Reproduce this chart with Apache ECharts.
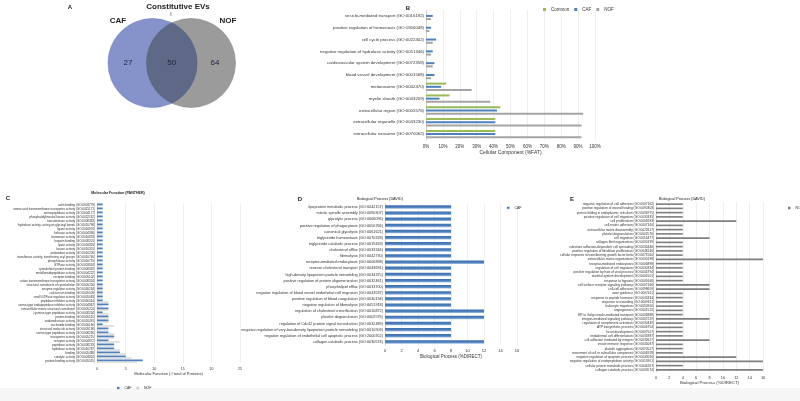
<!DOCTYPE html>
<html><head><meta charset="utf-8">
<script src="https://cdn.jsdelivr.net/npm/echarts@6/dist/echarts.min.js"></script>
<style>html,body{margin:0;padding:0;background:#fff}#c{width:800px;height:401px}</style>
</head><body><div id="c"></div>
<script>
// ---------- Panel A: Venn ----------
const vennSets = ['CAF', 'NOF'];
const vennCounts = [27, 50, 64]; // CAF only, shared, NOF only

// ---------- Panel B: Cellular Component (%FAT) ----------
const bCats = ['vesicle-mediated transport (GO:0016192)','positive regulation of hemostasis (GO:1900048)','cell cycle process (GO:0022402)','negative regulation of hydrolase activity (GO:0051346)','cardiovascular system development (GO:0072358)','blood vessel development (GO:0001568)','melanosome (GO:0042470)','myelin sheath (GO:0043209)','extracellular region (GO:0005576)','extracellular organelle (GO:0043230)','extracellular exosome (GO:0070062)'];
const bCommon = [0, 0, 0, 0, 0, 0, 12, 14, 44, 41, 41];
const bCAF    = [4, 3, 6, 4, 5, 5, 9, 8, 42, 41, 41];
const bNOF    = [3, 2, 4, 3, 4, 3, 27, 38, 93, 92, 92];
const bTicks  = [0, 10, 20, 30, 40, 50, 60, 70, 80, 90, 100];

// ---------- Panel C: Molecular Function (PANTHER) ----------
const cCats = ['actin binding (GO:0003779)','amino acid transmembrane transporter activity (GO:0015171)','aminopeptidase activity (GO:0004177)','phosphatidylinositol kinase activity (GO:0052742)','transaminase activity (GO:0008483)','hydrolase activity, acting on glycosyl bonds (GO:0016798)','ligase activity (GO:0016874)','helicase activity (GO:0004386)','isomerase activity (GO:0016853)','heparin binding (GO:0008201)','lyase activity (GO:0016829)','kinase activity (GO:0016301)','antioxidant activity (GO:0016209)','transferase activity, transferring acyl groups (GO:0016746)','phosphatase activity (GO:0016791)','GTPase activity (GO:0003924)','cytoskeletal protein binding (GO:0008092)','metalloendopeptidase activity (GO:0004222)','receptor binding (GO:0005102)','cation transmembrane transporter activity (GO:0008324)','structural constituent of cytoskeleton (GO:0005200)','enzyme regulator activity (GO:0030234)','calcium ion binding (GO:0005509)','small GTPase regulator activity (GO:0005083)','peptidase inhibitor activity (GO:0030414)','serine-type endopeptidase inhibitor activity (GO:0004867)','extracellular matrix structural constituent (GO:0005201)','cysteine-type peptidase activity (GO:0008234)','protein binding (GO:0005515)','oxidoreductase activity (GO:0016491)','nucleotide binding (GO:0000166)','structural molecule activity (GO:0005198)','serine-type peptidase activity (GO:0008236)','transporter activity (GO:0005215)','receptor activity (GO:0004872)','peptidase activity (GO:0008233)','hydrolase activity (GO:0016787)','binding (GO:0005488)','catalytic activity (GO:0003824)','protein binding activity (GO:0005515)'];
const cCAF = [1,1,1,1,1,1,1,1,1,1,1,1,1,1,1,1,1,1,1,1,1,1,1,1,1,2,2,1,2,2,1,2,2,3,2,3,3,4,5,8];
const cNOF = [0,0,0,0,0,1,0,1,0,0,0,0,0,0,0,1,0,0,0,0,1,1,1,1,2,1,2,2,2,2,3,2,3,3,4,3,4,5,6,7];
const cTicks = [0, 5, 10, 15, 20, 25];

// ---------- Panel D: Biological Process (DAVID), CAF ----------
const dCats = ['lipoprotein metabolic process (GO:0042157)','mitotic spindle assembly (GO:0090307)','glycolytic process (GO:0006096)','positive regulation of phagocytosis (GO:0050766)','canonical glycolysis (GO:0061621)','triglyceride homeostasis (GO:0070328)','triglyceride catabolic process (GO:0019433)','cholesterol efflux (GO:0033344)','fibrinolysis (GO:0042730)','receptor-mediated endocytosis (GO:0006898)','reverse cholesterol transport (GO:0043691)','high-density lipoprotein particle remodeling (GO:0034375)','positive regulation of protein oligomerization (GO:0032461)','phospholipid efflux (GO:0033700)','negative regulation of blood vessel endothelial cell migration (GO:0043537)','positive regulation of blood coagulation (GO:0030194)','negative regulation of fibrinolysis (GO:0051918)','regulation of cholesterol esterification (GO:0010872)','platelet degranulation (GO:0002576)','regulation of Cdc42 protein signal transduction (GO:0032489)','negative regulation of very-low-density lipoprotein particle remodeling (GO:0010903)','negative regulation of endothelial cell apoptotic process (GO:2000352)','collagen catabolic process (GO:0030574)'];
const dCAF = [8,8,8,8,8,8,8,8,8,12,8,8,8,8,8,8,8,12,12,8,8,8,12];
const dTicks = [0, 2, 4, 6, 8, 10, 12, 14, 16];

// ---------- Panel E: Biological Process (DAVID), NOF ----------
const eCats = ['negative regulation of cell adhesion (GO:0007162)','positive regulation of wound healing (GO:0090303)','protein folding in endoplasmic reticulum (GO:0034975)','positive regulation of cell migration (GO:0030335)','cell proliferation (GO:0008283)','cell-matrix adhesion (GO:0007160)','extracellular matrix disassembly (GO:0022617)','platelet degranulation (GO:0002576)','cell migration (GO:0016477)','collagen fibril organization (GO:0030199)','substrate adhesion-dependent cell spreading (GO:0034446)','positive regulation of fibroblast proliferation (GO:0048146)','cellular response to transforming growth factor beta (GO:0071560)','extracellular matrix organization (GO:0030198)','receptor-mediated endocytosis (GO:0006898)','regulation of cell migration (GO:0030334)','positive regulation by host of viral process (GO:0044794)','skeletal system development (GO:0001501)','response to hypoxia (GO:0001666)','cell surface receptor signaling pathway (GO:0007166)','cell-cell adhesion (GO:0098609)','axon guidance (GO:0007411)','response to peptide hormone (GO:0043434)','response to wounding (GO:0009611)','leukocyte migration (GO:0050900)','angiogenesis (GO:0001525)','ER to Golgi vesicle-mediated transport (GO:0006888)','integrin-mediated signaling pathway (GO:0007229)','regulation of complement activation (GO:0030449)','ATP biosynthetic process (GO:0006754)','heart development (GO:0007507)','endodermal cell differentiation (GO:0035987)','cell adhesion mediated by integrin (GO:0033627)','innate immune response (GO:0045087)','platelet aggregation (GO:0070527)','movement of cell or subcellular component (GO:0006928)','negative regulation of apoptotic process (GO:0043066)','negative regulation of endopeptidase activity (GO:0010951)','cellular protein metabolic process (GO:0044267)','collagen catabolic process (GO:0030574)'];
const eNOF = [4,4,4,4,12,4,4,4,8,4,4,4,4,16,4,4,4,4,4,8,8,4,4,4,4,4,4,8,4,4,4,4,8,4,4,4,12,16,4,16];
const eTicks = [0, 2, 4, 6, 8, 10, 12, 14, 16];

// colours
const GREEN = '#9bbb59', BLUE = '#4f81bd', GRAY = '#a5a5a5', DGRAY = '#7f7f7f';
const TXT = '#333';
const FONT = 'Liberation Sans, Arial, sans-serif';

const chart = echarts.init(document.getElementById('c'), null, {renderer: 'canvas'});

function catAxis(gi, cats, fs) {
  return {type: 'category', gridIndex: gi, data: cats, inverse: true,
    axisTick: {show: false}, axisLine: {show: true, lineStyle: {color: '#bfbfbf', width: 0.6}},
    axisLabel: {interval: 0, fontSize: fs, color: TXT, margin: 2, fontFamily: FONT}};
}
function valAxis(gi, ticks, fs, name, nameGap, fmt) {
  return {type: 'value', gridIndex: gi, min: ticks[0], max: ticks[ticks.length - 1],
    interval: ticks[1] - ticks[0],
    axisLine: {show: false}, axisTick: {show: false},
    splitLine: {show: true, lineStyle: {color: '#e4e4e4', width: 0.6}},
    axisLabel: {fontSize: fs, color: TXT, margin: 4, fontFamily: FONT, formatter: fmt || '{value}'},
    name: name, nameLocation: 'middle', nameGap: nameGap,
    nameTextStyle: {fontSize: fs + 0.5, color: TXT, fontFamily: FONT}};
}

// Venn geometry: lens polygon from arc samples
const cx1 = 152.5, cx2 = 191, cy = 63, r = 44.5;
const ah = (cx2 - cx1) / 2, hh = Math.sqrt(r * r - ah * ah), mx = cx1 + ah;
const phi = Math.atan2(hh, ah);
const lensPts = [];
for (let i = 0; i <= 40; i++) { const t = -phi + 2 * phi * i / 40; lensPts.push([cx1 + r * Math.cos(t), cy + r * Math.sin(t)]); }
for (let i = 0; i <= 40; i++) { const t = Math.PI - phi + 2 * phi * i / 40; lensPts.push([cx2 + r * Math.cos(t), cy + r * Math.sin(t)]); }

function txt(x, y, s, font, fill) {
  return {type: 'text', x: x, y: y, z: 20, style: {text: s, fill: fill || '#222', align: 'center', verticalAlign: 'middle', font: font}};
}

const graphic = [
  {type: 'rect', z: 0, shape: {x: 0, y: 388, width: 800, height: 13}, style: {fill: '#f6f6f6'}},
  {type: 'circle', z: 5, shape: {cx: cx2, cy: cy, r: r}, style: {fill: '#9b9b9b', stroke: '#8a8a8a', lineWidth: 0.6}},
  {type: 'circle', z: 6, shape: {cx: cx1, cy: cy, r: r}, style: {fill: '#8593ca', stroke: '#7282bd', lineWidth: 0.6}},
  {type: 'polygon', z: 7, shape: {points: lensPts}, style: {fill: '#5e6988', stroke: '#56617f', lineWidth: 0.5}},
  txt(128, cy, String(vennCounts[0]), '8px ' + FONT, '#1e2540'),
  txt(mx, cy, String(vennCounts[1]), '8px ' + FONT, '#1e2540'),
  txt(215, cy, String(vennCounts[2]), '8px ' + FONT, '#1e2540'),
  txt(118, 21, vennSets[0], 'bold 8px ' + FONT),
  txt(228, 21, vennSets[1], 'bold 8px ' + FONT),
  txt(178, 7, 'Constitutive EVs', 'bold 8px ' + FONT),
  txt(171, 15, 'I', '5px ' + FONT),
  txt(70, 7, 'A', 'bold 6px ' + FONT),
  txt(408, 8, 'B', 'bold 6px ' + FONT),
  txt(8, 198, 'C', 'bold 6px ' + FONT),
  txt(300, 199, 'D', 'bold 6px ' + FONT),
  txt(572, 199, 'E', 'bold 6px ' + FONT),
  txt(118, 193, 'Molecular Function (PANTHER)', 'bold 3.6px ' + FONT),
  txt(380, 199, 'Biological Process (DAVID)', '3.8px ' + FONT),
  txt(682, 199, 'Biological Process (DAVID)', '3.8px ' + FONT)
];

const option = {
  backgroundColor: '#ffffff',
  animation: false,
  textStyle: {fontFamily: FONT},
  graphic: {elements: graphic},
  legend: [
    {data: ['Common', 'CAF', 'NOF'], left: 538, top: 2, itemWidth: 3, itemHeight: 3, itemGap: 5,
      textStyle: {fontSize: 4.5, color: TXT}, icon: 'rect'},
    {data: ['CAF ', 'NOF '], left: 112, top: 381, itemWidth: 2.5, itemHeight: 2.5, itemGap: 4,
      textStyle: {fontSize: 3.5, color: TXT}, icon: 'rect'},
    {data: ['CAF  '], left: 502, top: 201, itemWidth: 2.5, itemHeight: 2.5,
      textStyle: {fontSize: 3.5, color: TXT}, icon: 'rect'},
    {data: ['NOF  '], left: 783, top: 201, itemWidth: 2.5, itemHeight: 2.5,
      textStyle: {fontSize: 3.5, color: TXT}, icon: 'rect'}
  ],
  grid: [
    {left: 426, width: 169, top: 10, height: 130},
    {left: 97, width: 143, top: 203, height: 160},
    {left: 385, width: 132, top: 204, height: 141},
    {left: 656, width: 107, top: 202, height: 170}
  ],
  xAxis: [
    valAxis(0, bTicks, 4.5, 'Cellular Component (%FAT)', 9, '{value}%'),
    valAxis(1, cTicks, 3.5, 'Molecular Function (# total of Proteins)', 8),
    valAxis(2, dTicks, 4, 'Biological Process (%DIRECT)', 9),
    valAxis(3, eTicks, 3.8, 'Biological Process (%DIRECT)', 9)
  ],
  yAxis: [
    catAxis(0, bCats, 4.3),
    catAxis(1, cCats, 3),
    catAxis(2, dCats, 3.8),
    catAxis(3, eCats, 3.2)
  ],
  series: [
    {name: 'Common', type: 'bar', xAxisIndex: 0, yAxisIndex: 0, data: bCommon, barWidth: 2, barGap: '60%', itemStyle: {color: GREEN}},
    {name: 'CAF', type: 'bar', xAxisIndex: 0, yAxisIndex: 0, data: bCAF, barWidth: 2, barGap: '60%', itemStyle: {color: BLUE}},
    {name: 'NOF', type: 'bar', xAxisIndex: 0, yAxisIndex: 0, data: bNOF, barWidth: 2, barGap: '60%', itemStyle: {color: GRAY}},
    {name: 'CAF ', type: 'bar', xAxisIndex: 1, yAxisIndex: 1, data: cCAF, barWidth: 1.8, barGap: '10%', itemStyle: {color: BLUE}},
    {name: 'NOF ', type: 'bar', xAxisIndex: 1, yAxisIndex: 1, data: cNOF, barWidth: 1, barGap: '10%', itemStyle: {color: '#c8c8c8'}},
    {name: 'CAF  ', type: 'bar', xAxisIndex: 2, yAxisIndex: 2, data: dCAF, barWidth: 3.5,
      itemStyle: {color: new echarts.graphic.LinearGradient(0, 0, 0, 1, [{offset: 0, color: '#3d6eb0'}, {offset: 0.6, color: '#4f81bd'}, {offset: 1, color: '#a9c5e8'}])}},
    {name: 'NOF  ', type: 'bar', xAxisIndex: 3, yAxisIndex: 3, data: eNOF, barWidth: 1.6, itemStyle: {color: DGRAY}}
  ]
};
chart.setOption(option);
</script></body></html>
